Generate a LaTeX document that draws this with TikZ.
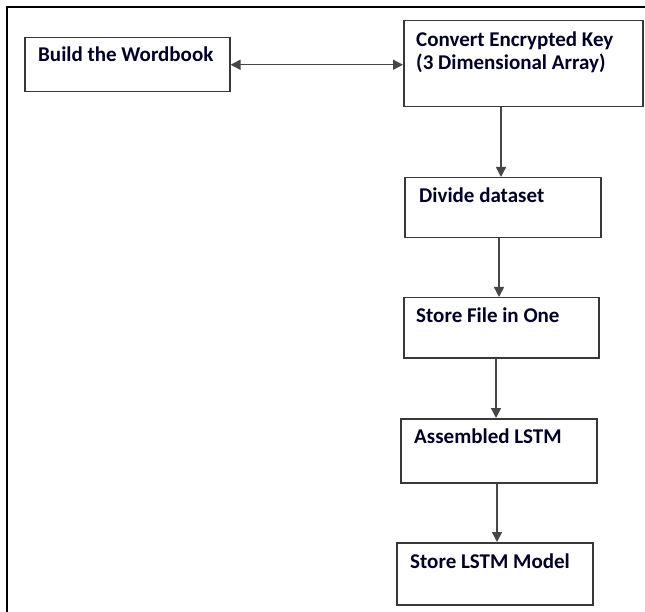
\documentclass[tikz,border=0pt]{standalone}
\usepackage{fontspec}
\setmainfont{Carlito}
\usetikzlibrary{arrows.meta}
\begin{document}
\begin{tikzpicture}[x=1pt,y=-1pt,
  stepbox/.style={draw=black!78, line width=1.5pt, fill=white, anchor=north west, inner sep=0pt},
  boxtext/.style={anchor=base west, inner sep=0pt, font=\bfseries\fontsize{21}{25}\selectfont, text=black!85!blue},
  flow/.style={draw=black!72, line width=1.5pt, -{Triangle[length=10pt,width=10pt]}}]
  \useasboundingbox (0,0) rectangle (645,612);

  % outer frame (top and left edges only)
  \draw[line width=2.4pt, line join=miter] (7,612) -- (7,7) -- (645,7);

  % process boxes
  \node[stepbox, minimum width=205pt, minimum height=54pt] (wb) at (24,37) {};
  \node[stepbox, minimum width=239pt, minimum height=86pt] (ck) at (403,20) {};
  \node[stepbox, minimum width=196pt, minimum height=60pt] (dd) at (404,177) {};
  \node[stepbox, minimum width=195pt, minimum height=60pt] (sf) at (403,297) {};
  \node[stepbox, minimum width=196pt, minimum height=64pt] (as) at (400,418) {};
  \node[stepbox, minimum width=196pt, minimum height=62pt] (sm) at (396,542) {};

  % box captions
  \node[boxtext] (wbt) at (38,62) {Build the Wordbook};
  \node[boxtext] (ckt1) at (416,47) {Convert Encrypted Key};
  \node[boxtext] (ckt2) at (416,70) {(3 Dimensional Array)};
  \node[boxtext] (ddt) at (419,203) {Divide dataset};
  \node[boxtext] (sft) at (416,322) {Store File in One};
  \node[boxtext] (ast) at (414,443) {Assembled LSTM};
  \node[boxtext] (smt) at (410,568) {Store LSTM Model};

  % connectors
  \draw[flow, {Triangle[length=10pt,width=10pt]}-{Triangle[length=10pt,width=10pt]}]
    (wb.east) -- (wb.east -| ck.west);
  \draw[flow] ([xshift=98]ck.south west) -- ([xshift=98]ck.south west |- dd.north);
  \draw[flow] ([xshift=95]dd.south west) -- ([xshift=95]dd.south west |- sf.north);
  \draw[flow] ([xshift=93]sf.south west) -- ([xshift=93]sf.south west |- as.north);
  \draw[flow] ([xshift=97]as.south west) -- ([xshift=97]as.south west |- sm.north);
\end{tikzpicture}
\end{document}
